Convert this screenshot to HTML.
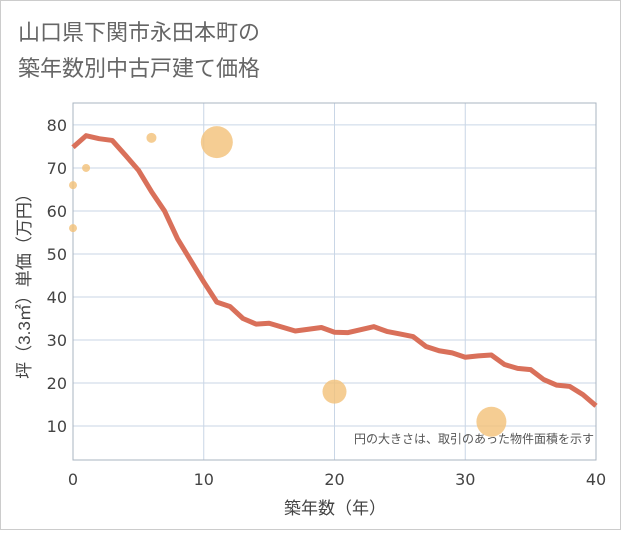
<!DOCTYPE html>
<html><head><meta charset="utf-8"><style>
body{margin:0;background:#fff;}
svg text{font-family:"Liberation Sans","Noto Sans CJK JP",sans-serif;}
svg text.tick{font-family:"DejaVu Sans",sans-serif;}
</style></head><body>
<svg width="621" height="530" xmlns="http://www.w3.org/2000/svg">
<rect x="0.5" y="0.5" width="620" height="529" fill="#fff" stroke="#ccc"/>
<text x="18" y="40" font-size="22" fill="#666">山口県下関市永田本町の</text>
<text x="18" y="76" font-size="22" fill="#666">築年数別中古戸建て価格</text>
<g id="plot"></g>
<text x="335" y="514" font-size="17" fill="#444" text-anchor="middle">築年数（年）</text>
<text transform="translate(30,282) rotate(-90)" font-size="17" fill="#444" text-anchor="middle">坪（3.3㎡）単価（万円）</text>
<text x="594" y="443" font-size="12" fill="#555" text-anchor="end">円の大きさは、取引のあった物件面積を示す</text>
</svg>
<script>
const xTicks=[0,10,20,30,40];
const yTicks=[10,20,30,40,50,60,70,80];
const lineYears=[0,1,2,3,4,5,6,7,8,9,10,11,12,13,14,15,16,17,18,19,20,21,22,23,24,25,26,27,28,29,30,31,32,33,34,35,36,37,38,39,40];
const linePrices=[74.8,77.5,76.8,76.4,73,69.5,64.5,60,53.5,48.5,43.5,38.8,37.8,35,33.7,33.9,33,32.1,32.5,32.9,31.8,31.7,32.4,33.1,32,31.4,30.8,28.5,27.5,27,26,26.3,26.5,24.3,23.4,23.1,20.8,19.5,19.2,17.3,14.7];
const bubbleYears=[0,0,1,6,11,20,32];
const bubblePrices=[66,56,70,77,76,18,11];
const bubbleRadii=[4,4,4,5,16,12,15];
const L=73,R=596,T=103,B=460,ymin=2.1,ymax=85.1;
const sx=v=>L+(v-0)/(40-0)*(R-L);
const sy=v=>B-(v-ymin)/(ymax-ymin)*(B-T);
const NS="http://www.w3.org/2000/svg";
const g=document.getElementById('plot');
function mk(t,a){const e=document.createElementNS(NS,t);for(const k in a)e.setAttribute(k,a[k]);g.appendChild(e);return e;}
yTicks.forEach(v=>{
 const l=mk('line',{x1:L,x2:R,y1:sy(v),y2:sy(v),stroke:'#c9d6e6','stroke-width':1});
 
 
 const t=mk('text',{x:L-6,y:sy(v)+6,'font-size':16,fill:'#444','text-anchor':'end','class':'tick'});
 t.textContent=v;
 
 
});
xTicks.forEach(v=>{
 const l=mk('line',{x1:sx(v),x2:sx(v),y1:T,y2:B,stroke:'#c9d6e6','stroke-width':1});
 
 
 const t=mk('text',{x:sx(v),y:B+25,'font-size':16,fill:'#444','text-anchor':'middle','class':'tick'});
 t.textContent=v;
 
 
});
const fr=mk('rect',{x:L,y:T,width:R-L,height:B-T,fill:'none',stroke:'#aab4c0','stroke-width':1});


bubbleYears.forEach((yr,i)=>{
 const c=mk('circle',{cx:sx(yr),cy:sy(bubblePrices[i]),r:bubbleRadii[i],fill:'#f2c078','fill-opacity':0.8});
 
 
});
const pts=lineYears.map((yr,i)=>sx(yr)+','+sy(linePrices[i])).join(' ');
const pl=mk('polyline',{points:pts,fill:'none',stroke:'#d9705a','stroke-width':5,'stroke-linejoin':'round'});


</script>
</body></html>
